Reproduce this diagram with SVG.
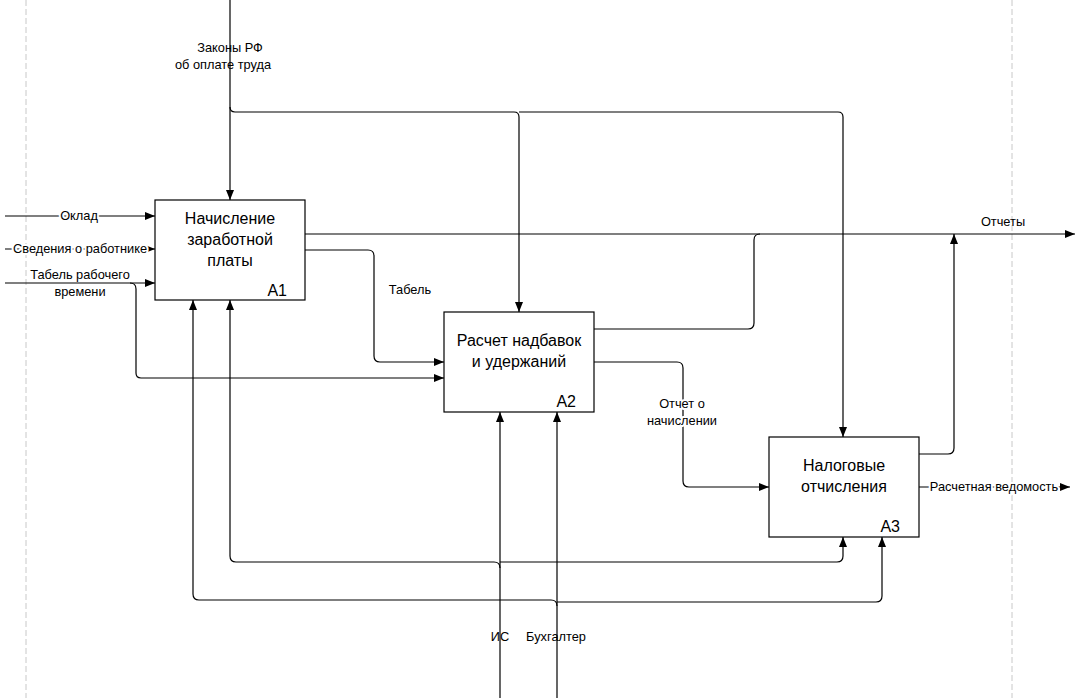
<svg xmlns="http://www.w3.org/2000/svg" width="1079" height="698" viewBox="0 0 1079 698">
<defs>
<marker id="arr" viewBox="0 0 10 8" refX="10" refY="4" markerWidth="10" markerHeight="8" markerUnits="userSpaceOnUse" orient="auto">
<path d="M0,0 L10,4 L0,8 Z" fill="#000"/>
</marker>
</defs>
<style>
.c{fill:none;stroke:#000;stroke-width:1.2}
.a{marker-end:url(#arr)}
.box{fill:#fff;stroke:#000;stroke-width:1.2}
.t{font-family:"Liberation Sans",Arial,sans-serif;font-size:16px;fill:#000;text-anchor:middle}
.id{font-family:"Liberation Sans",Arial,sans-serif;font-size:16px;fill:#000;text-anchor:end}
.l{font-family:"Liberation Sans",Arial,sans-serif;font-size:12.8px;fill:#000;text-anchor:middle}
.h{paint-order:stroke;stroke:#fff;stroke-width:4px;stroke-linejoin:round}
.d{stroke:#c8c8c8;stroke-width:1;stroke-dasharray:6,3;fill:none}
</style>
<rect width="1079" height="698" fill="#fff"/>
<line class="d" x1="26" y1="0" x2="26" y2="698"/>
<line class="d" x1="1012" y1="0" x2="1012" y2="698"/>
<g id="connectors">
<path class="c a" d="M230,0 V200"/>
<path class="c a" d="M230,107 Q230,112 235,112 H514 Q519,112 519,117 V312"/>
<path class="c a" d="M519,112 H838 Q843,112 843,117 V437"/>
<path class="c a" d="M5,216 H155"/>
<path class="c a" d="M5,249 H155"/>
<path class="c a" d="M5,283 H155"/>
<path class="c a" d="M130,283 Q136,283 136,289 V373 Q136,378 141,378 H444"/>
<path class="c a" d="M305,234 H1075"/>
<path class="c a" d="M305,250 H368 Q374,250 374,256 V356 Q374,362 380,362 H444"/>
<path class="c" d="M594,329 H748 Q754,329 754,323 V240 Q754,234 760,234"/>
<path class="c a" d="M594,362 H677 Q683,362 683,368 V481 Q683,487 689,487 H769"/>
<path class="c a" d="M919,454 H948 Q954,454 954,448 V234"/>
<path class="c a" d="M919,487 H1070"/>
<path class="c a" d="M500,698 V412"/>
<path class="c a" d="M557,698 V412"/>
<path class="c a" d="M500,568 Q500,562 494,562 H236 Q230,562 230,556 V300"/>
<path class="c a" d="M500,562 H837 Q843,562 843,556 V537"/>
<path class="c a" d="M557,606 Q557,600 551,600 H199 Q193,600 193,594 V300"/>
<path class="c a" d="M557,602 H876 Q882,602 882,596 V537"/>
</g>
<g id="labels">
<text class="l" x="230" y="52">Законы РФ</text>
<text class="l" x="223" y="69">об оплате труда</text>
<text class="l h" x="79" y="220">Оклад</text>
<text class="l h" x="80" y="253">Сведения о работнике</text>
<text class="l" x="80" y="279">Табель рабочего</text>
<text class="l" x="80" y="296">времени</text>
<text class="l" x="410" y="294">Табель</text>
<text class="l h" x="682" y="408">Отчет о</text>
<text class="l h" x="682" y="425">начислении</text>
<text class="l" x="1003" y="226">Отчеты</text>
<text class="l h" x="994" y="491">Расчетная ведомость</text>
<text class="l" x="500" y="641">ИС</text>
<text class="l" x="556" y="641">Бухгалтер</text>
</g>
<g id="A1">
<rect class="box" x="155" y="200" width="150" height="100"/>
<text class="t" x="230" y="224">Начисление</text>
<text class="t" x="230" y="245">заработной</text>
<text class="t" x="230" y="266">платы</text>
<text class="id" x="287" y="296">A1</text>
</g>
<g id="A2">
<rect class="box" x="444" y="312" width="150" height="100"/>
<text class="t" x="519" y="346">Расчет надбавок</text>
<text class="t" x="519" y="367">и удержаний</text>
<text class="id" x="576" y="407">A2</text>
</g>
<g id="A3">
<rect class="box" x="769" y="437" width="150" height="100"/>
<text class="t" x="844" y="471">Налоговые</text>
<text class="t" x="844" y="492">отчисления</text>
<text class="id" x="900" y="532">A3</text>
</g>
</svg>
